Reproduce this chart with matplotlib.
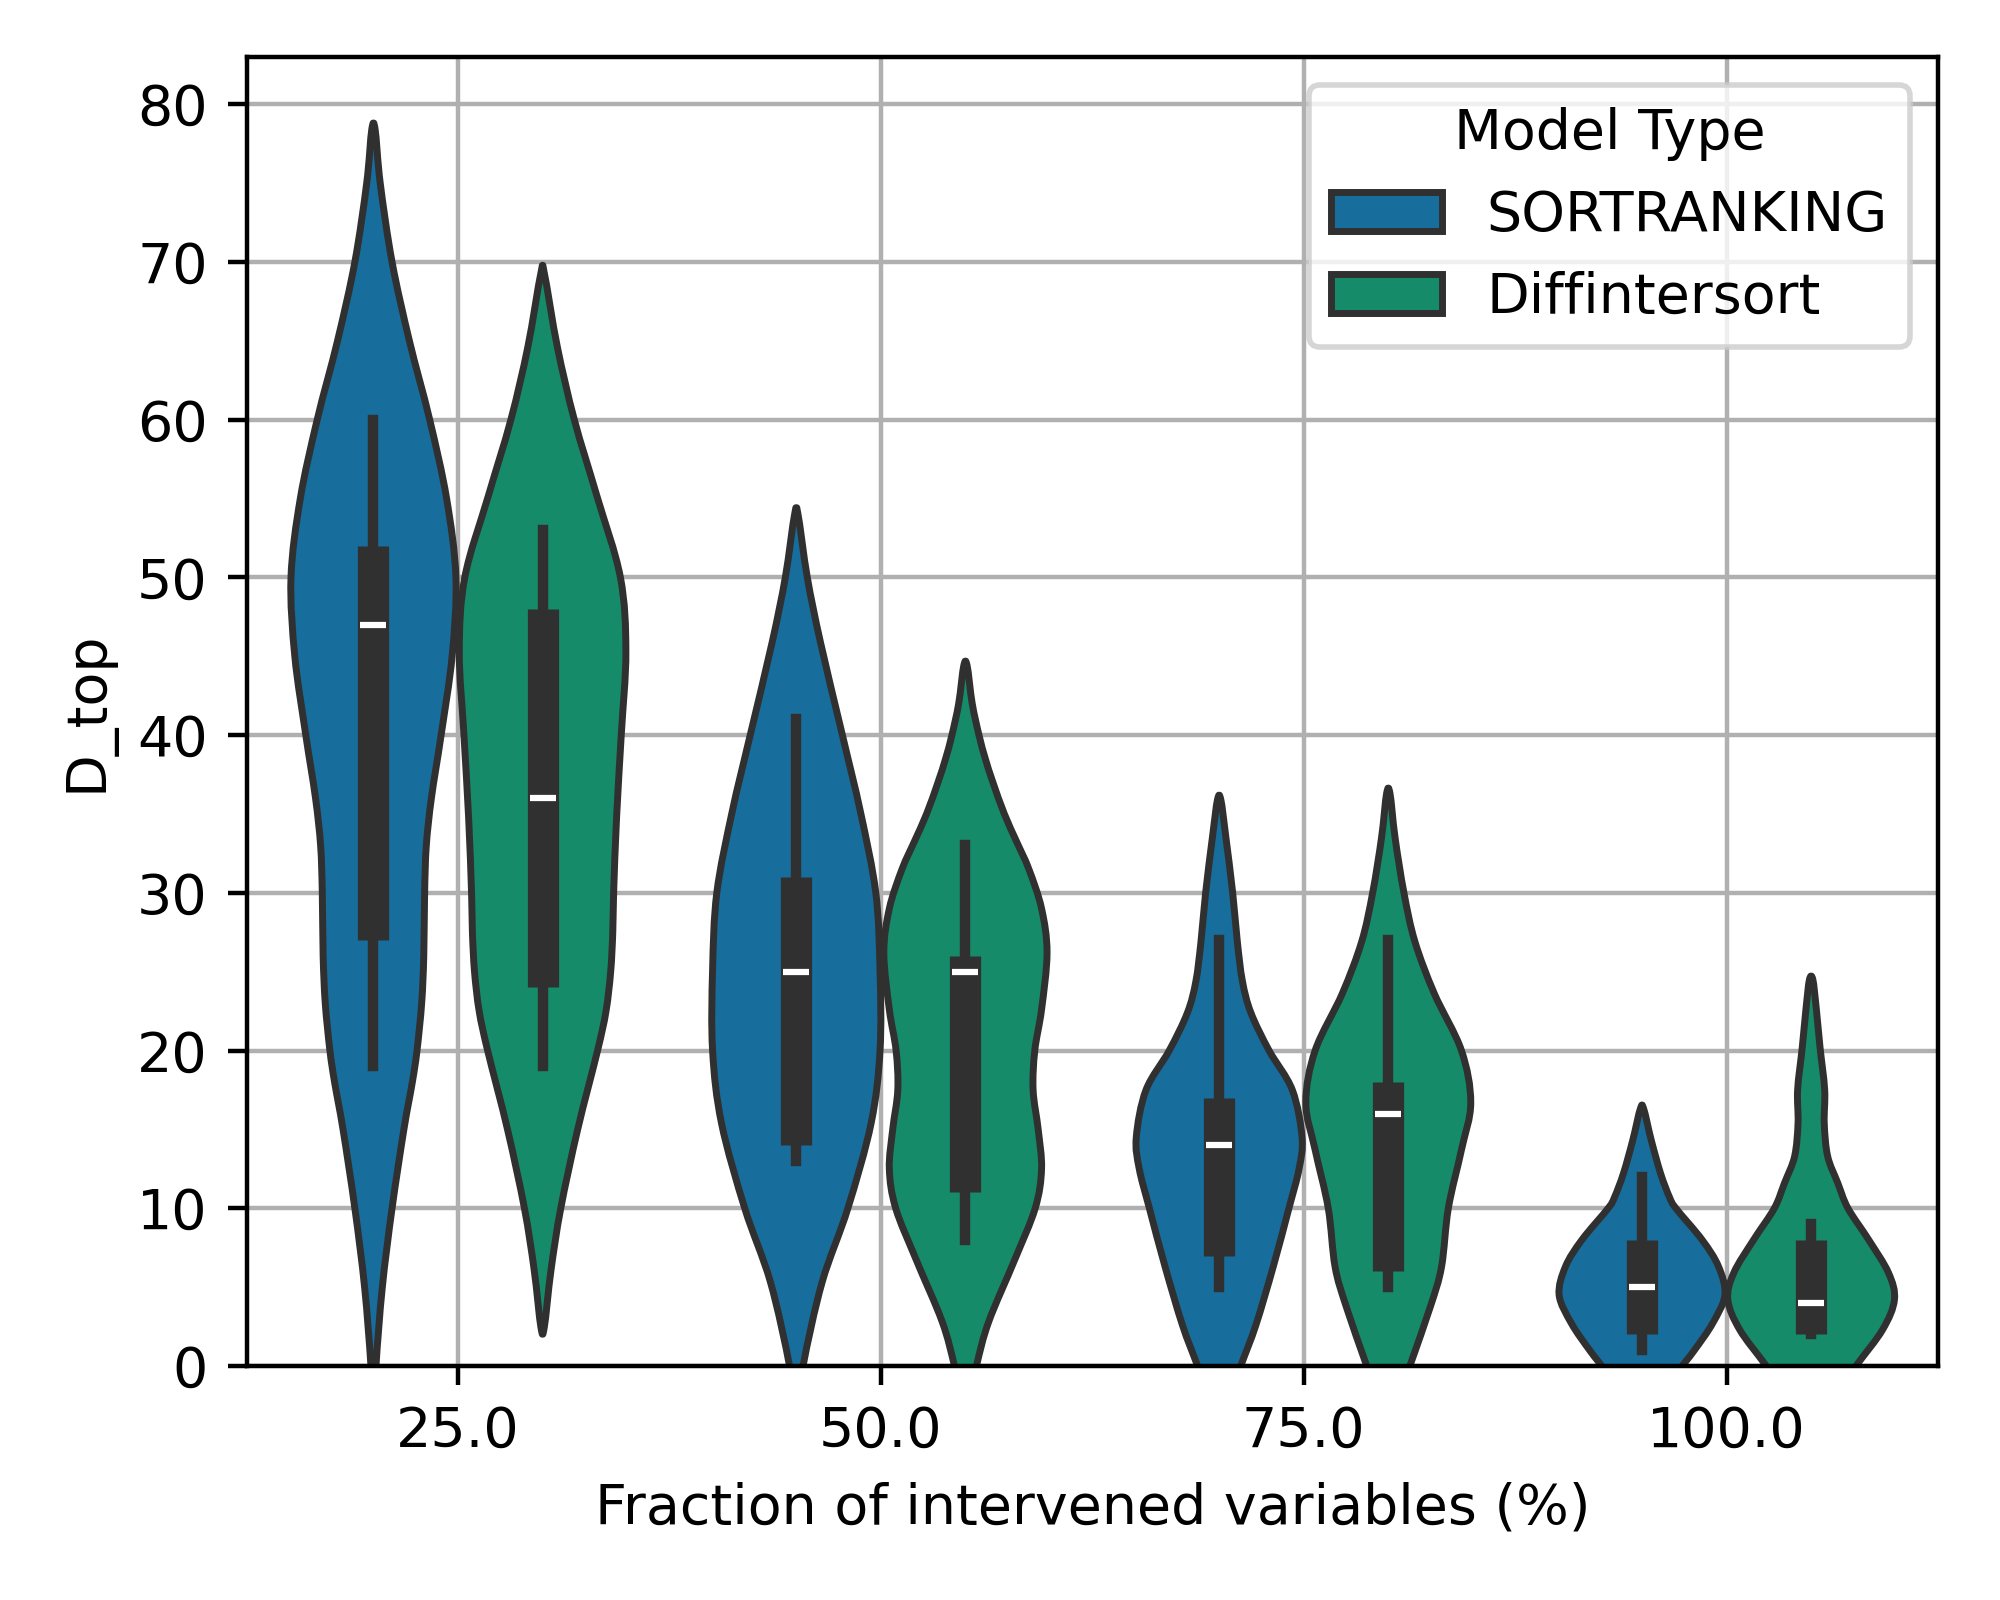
import colorsys
import numpy as np
import matplotlib
matplotlib.use("Agg")
import matplotlib.pyplot as plt
from matplotlib.path import Path
from matplotlib.patches import PathPatch, Patch

# ---------------- data ----------------
fractions = ["25.0", "50.0", "75.0", "100.0"]
models = ["SORTRANKING", "Diffintersort"]
base_colors = ["#0173b2", "#029e73"]

# violin outlines: value levels and half-widths (in category units)
sortranking_levels = [
    [0, 5, 10, 15, 18, 20, 23, 26, 30, 33, 36, 40, 45, 50, 55, 60, 65, 70, 75, 78.4],
    [0, 5.3, 10, 15.4, 20, 25.1, 30, 35.1, 40, 45.9, 50, 54.0],
    [0, 2.6, 6.3, 10, 12.5, 14.5, 17.5, 20, 22.4, 24.4, 26.9, 30, 33.5, 35.9],
    [0, 1.0, 2.7, 4.5, 6.3, 8.0, 10, 10.7, 12.2, 14.3, 16.3],
]
sortranking_halfwidths = [
    [0.006, 0.021, 0.044, 0.072, 0.092, 0.103, 0.114, 0.119, 0.121, 0.125, 0.137, 0.160, 0.186, 0.195, 0.173, 0.133, 0.085, 0.044, 0.016, 0.004],
    [0.016, 0.061, 0.122, 0.177, 0.198, 0.198, 0.188, 0.152, 0.109, 0.057, 0.026, 0.004],
    [0.051, 0.087, 0.128, 0.165, 0.189, 0.196, 0.173, 0.118, 0.075, 0.055, 0.043, 0.032, 0.016, 0.004],
    [0.095, 0.124, 0.167, 0.196, 0.181, 0.142, 0.080, 0.065, 0.044, 0.022, 0.004],
]
diffintersort_levels = [
    [2.45, 6.1, 10, 15, 20, 22.5, 25, 27.5, 30, 34.8, 40, 45.3, 50, 55.2, 60, 64.6, 69.3],
    [0, 2.8, 6.7, 10, 12.5, 15, 17.5, 20, 22.6, 26.2, 29, 31.5, 33.3, 35, 37, 38.5, 40, 42, 44.4],
    [0, 3.8, 6.3, 10, 13.7, 16.7, 20, 23.6, 26.9, 30, 33.5, 36.3],
    [0, 2.3, 4.2, 5.9, 8.0, 10, 11.6, 13.3, 15.4, 17.5, 20.2, 22.7, 24.5],
]
diffintersort_halfwidths = [
    [0.004, 0.020, 0.043, 0.083, 0.130, 0.150, 0.161, 0.166, 0.168, 0.175, 0.186, 0.197, 0.184, 0.128, 0.075, 0.035, 0.004],
    [0.026, 0.055, 0.116, 0.165, 0.180, 0.172, 0.160, 0.164, 0.180, 0.193, 0.180, 0.150, 0.120, 0.092, 0.065, 0.047, 0.032, 0.016, 0.004],
    [0.051, 0.100, 0.126, 0.142, 0.173, 0.195, 0.173, 0.109, 0.063, 0.037, 0.016, 0.004],
    [0.106, 0.169, 0.197, 0.183, 0.136, 0.087, 0.063, 0.039, 0.031, 0.032, 0.021, 0.012, 0.004],
]

# inner box statistics
sortranking_median = [47, 25, 14, 5]
sortranking_q1 = [27, 14, 7, 2]
sortranking_q3 = [52, 31, 17, 8]
sortranking_whislo = [19, 13, 5, 1]
sortranking_whishi = [60, 41, 27, 12]

diffintersort_median = [36, 25, 16, 4]
diffintersort_q1 = [24, 11, 6, 2]
diffintersort_q3 = [48, 26, 18, 8]
diffintersort_whislo = [19, 8, 5, 2]
diffintersort_whishi = [53, 33, 27, 9]


# ---------------- helpers ----------------
def desaturate(hexcol, prop=0.75):
    r, g, b = matplotlib.colors.to_rgb(hexcol)
    h, l, s = colorsys.rgb_to_hls(r, g, b)
    return colorsys.hls_to_rgb(h, l, s * prop)


def smooth_closed_path(xs, ys):
    P = np.column_stack([xs, ys])
    n = len(P)
    verts = [P[0]]
    codes = [Path.MOVETO]
    for i in range(n):
        p0, p1, p2, p3 = P[(i - 1) % n], P[i], P[(i + 1) % n], P[(i + 2) % n]
        c1 = p1 + (p2 - p0) / 6.0
        c2 = p2 - (p3 - p1) / 6.0
        verts += [c1, c2, p2]
        codes += [Path.CURVE4] * 3
    verts.append(P[0])
    codes.append(Path.CLOSEPOLY)
    return Path(np.array(verts), codes)


fill_colors = [desaturate(c) for c in base_colors]
lum = min(colorsys.rgb_to_hls(*matplotlib.colors.to_rgb(c))[1] for c in base_colors) * 0.6
gray = (lum, lum, lum)

lw = 1.25
box_w = lw * 4.5
whis_w = box_w / 3

fig = plt.figure(figsize=(5, 4), dpi=400)
ax = fig.add_axes([0.1233, 0.1463, 0.8457, 0.8181])
ax.set_axisbelow(True)
ax.grid(True, color="#b0b0b0", linewidth=0.8)

groups = [
    (sortranking_levels, sortranking_halfwidths, sortranking_median, sortranking_q1,
     sortranking_q3, sortranking_whislo, sortranking_whishi),
    (diffintersort_levels, diffintersort_halfwidths, diffintersort_median, diffintersort_q1,
     diffintersort_q3, diffintersort_whislo, diffintersort_whishi),
]
offsets = [-0.2, 0.2]

for gi, (levels, hws, med, q1, q3, wlo, whi) in enumerate(groups):
    for ci in range(len(fractions)):
        cx = ci + offsets[gi]
        y = list(levels[ci])
        w = list(hws[ci])
        if y[0] <= 0:
            # continue the outline below the visible axis so clipping hides the end
            slope = (w[1] - w[0]) / (y[1] - y[0])
            ext = 3.0
            y = [y[0] - ext] + y
            w = [max(w[0] - slope * ext, 0.002)] + w
        y = np.array(y, float)
        w = np.array(w, float)
        xs = np.concatenate([cx + w, (cx - w)[::-1]])
        ys = np.concatenate([y, y[::-1]])
        path = smooth_closed_path(xs, ys)
        ax.add_patch(PathPatch(path, facecolor=fill_colors[gi], edgecolor=gray,
                               linewidth=lw, joinstyle="round", zorder=2))
        ax.plot([cx, cx], [wlo[ci], whi[ci]], color=gray, lw=whis_w,
                solid_capstyle="projecting", zorder=3)
        ax.plot([cx, cx], [q1[ci], q3[ci]], color=gray, lw=box_w,
                solid_capstyle="butt", zorder=3)
        ax.plot([cx], [med[ci]], marker="_", markersize=box_w / 1.2,
                markeredgewidth=box_w / 5, color="white", zorder=4)

ax.set_xlim(-0.5, len(fractions) - 0.5)
ax.set_ylim(0, 83.0)
ax.set_xticks(range(len(fractions)))
ax.set_xticklabels(fractions)
ax.set_yticks(range(0, 81, 10))
ax.set_xlabel("Fraction of intervened variables (%)")
ax.set_ylabel("D_top")

handles = [Patch(facecolor=fill_colors[i], edgecolor=gray, linewidth=lw, label=models[i])
           for i in range(len(models))]
ax.legend(handles=handles, title="Model Type", loc="upper right")

fig.savefig("out.png", dpi=400)
